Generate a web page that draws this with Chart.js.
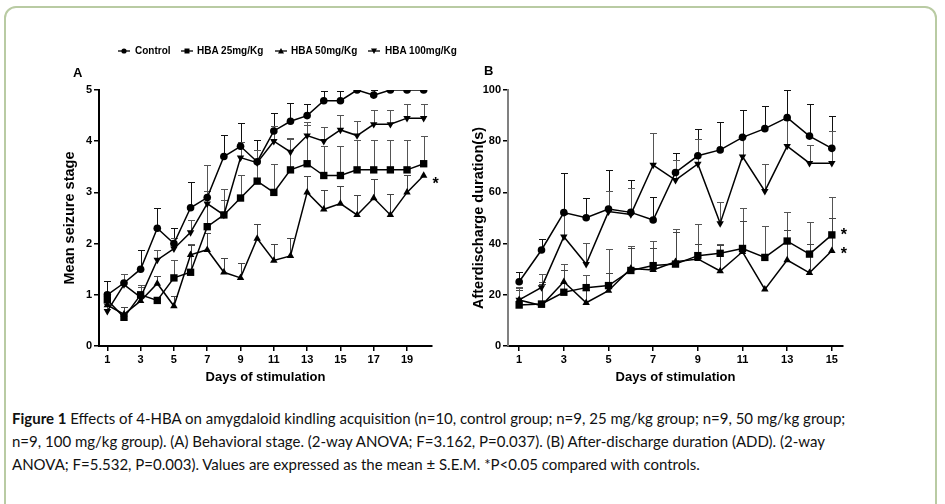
<!DOCTYPE html>
<html><head><meta charset="utf-8">
<script src="https://cdn.jsdelivr.net/npm/chart.js@4.4.1/dist/chart.umd.min.js"></script>
<style>
html,body{margin:0;padding:0;}
body{width:945px;height:504px;overflow:hidden;background:#fff;position:relative;font-family:"Liberation Sans",Arial,sans-serif;}
#frame{position:absolute;left:4px;top:6px;width:933px;height:530px;border:2px solid #b9cba3;border-radius:12px;box-sizing:border-box;}
canvas{position:absolute;top:0;}
#cA{left:0;}
#cB{left:470px;}
.panel{position:absolute;font-weight:bold;font-size:13px;color:#000;}
.leg{position:absolute;top:44px;height:14px;font-weight:bold;font-size:10px;line-height:14px;color:#000;white-space:nowrap;}
.leg svg{position:absolute;left:0;top:2px;}
.leg span{position:absolute;top:0;}
#caption{position:absolute;left:12px;top:407px;font-family:Lato,"Open Sans",sans-serif;font-size:15px;line-height:23px;white-space:nowrap;color:#111;}
</style>
</head><body>
<div id="frame"></div>
<canvas id="cA" width="470" height="400"></canvas>
<canvas id="cB" width="475" height="400"></canvas>
<div class="panel" style="left:73px;top:65px;">A</div>
<div class="panel" style="left:484px;top:63px;">B</div>
<div id="legend"></div>
<div id="caption"><b>Figure 1</b> Effects of 4-HBA on amygdaloid kindling acquisition (n=10, control group; n=9, 25 mg/kg group; n=9, 50 mg/kg group;<br>n=9, 100 mg/kg group). (A) Behavioral stage. (2-way ANOVA; F=3.162, P=0.037). (B) After-discharge duration (ADD). (2-way<br>ANOVA; F=5.532, P=0.003). Values are expressed as the mean ± S.E.M. *P&lt;0.05 compared with controls.</div>
<script>
// ---------- data ----------
const seriesNames = ["Control", "HBA 25mg/Kg", "HBA 50mg/Kg", "HBA 100mg/Kg"];

// Panel A: mean seizure stage
const daysA = [1,2,3,4,5,6,7,8,9,10,11,12,13,14,15,16,17,18,19,20];
const ctrlA   = [1.0,1.23,1.5,2.3,2.0,2.7,2.9,3.7,3.9,3.6,4.2,4.39,4.5,4.79,4.79,5.0,4.9,5.0,5.0,5.0];
const hba25A  = [0.9,0.56,1.0,0.89,1.33,1.44,2.33,2.56,2.89,3.22,3.0,3.44,3.56,3.33,3.33,3.44,3.44,3.44,3.44,3.56];
const hba50A  = [0.8,0.62,0.88,1.22,0.78,1.78,1.88,1.44,1.33,2.1,1.67,1.76,3.0,2.67,2.78,2.56,2.89,2.56,3.0,3.33];
const hba100A = [0.68,1.2,0.95,1.68,1.9,2.22,2.78,2.56,3.68,3.58,4.0,3.79,4.11,4.0,4.22,4.11,4.33,4.33,4.45,4.45];
const ctrlAErr   = [0.27,0.17,0.37,0.4,0.3,0.5,0.63,0.43,0.45,0.42,0.36,0.35,0.22,0.2,0.2,0,0.1,0,0,0];
const hba25AErr  = [0.15,0.2,0.2,0.05,0.34,0.55,0.7,0.5,0.45,0.6,0.55,0.6,0.75,0.57,0.57,0.59,0.59,0.59,0.59,0.54];
const hba50AErr  = [0.1,0.15,0.1,0.15,0.2,0.2,0.33,0.27,0.3,0.28,0.33,0.34,0.33,0.38,0.35,0.39,0.38,0.4,0.34,0];
const hba100AErr = [0.15,0.2,0.2,0.2,0.2,0.25,0.75,0.3,0.3,0.25,0.3,0.28,0.26,0.27,0.3,0.28,0.27,0.27,0.27,0.27];
const xTicksA = [1,3,5,7,9,11,13,15,17,19];
const yTicksA = [0,1,2,3,4,5];

// Panel B: afterdischarge duration (s)
const daysB = [1,2,3,4,5,6,7,8,9,10,11,12,13,14,15];
const ctrlB   = [25.1,37.5,52.1,50.1,53.5,52.2,49.2,67.8,74.3,76.6,81.5,84.9,89.2,82.0,77.2];
const hba25B  = [16.0,16.4,21.0,22.8,23.6,29.5,31.4,32.0,35.3,36.2,38.1,34.6,41.0,35.9,43.4];
const hba50B  = [18.0,15.8,25.1,16.9,21.6,30.3,29.7,32.9,34.0,29.3,36.8,22.1,33.6,28.6,37.2];
const hba100B = [18.0,22.9,42.7,32.0,52.5,51.4,70.7,64.8,71.1,47.9,74.0,60.5,78.1,71.4,71.4];
const ctrlBErr   = [4,4.2,15.3,7.6,15.2,12.6,8.9,7.7,10.3,11,10.7,9,10.8,12.4,12.8];
const hba25BErr  = [6.9,8.7,10.9,5,14.2,9.7,9.7,13.6,12.2,3.5,15.7,12.3,11.5,12.7,14.7];
const hba50BErr  = [4,8.4,4.6,5,6.8,8,8.7,11.7,5.7,10,12,0,11.7,11.1,12.7];
const hba100BErr = [4.8,5.2,9,8.4,8,10.2,12.4,7.9,9.6,8.5,8,10.6,10,7,12.6];
const xTicksB = [1,3,5,7,9,11,13,15];
const yTicksB = [0,20,40,60,80,100];

// ---------- styling ----------
const styles = [
  {pointStyle:'circle', radius:3.8, rot:0, err:'#111'},
  {pointStyle:'rect', radius:5.2, rot:0, err:'#555'},
  {pointStyle:'triangle', radius:4.3, rot:0, err:'#444'},
  {pointStyle:'triangle', radius:4.3, rot:180, err:'#555'}
];

function mkDatasets(days, vals, errs){
  return vals.map((v,i)=>({
    label: seriesNames[i],
    data: days.map((d,j)=>({x:d, y:v[j]})),
    errors: errs[i],
    errColor: styles[i].err,
    borderColor:'#000', backgroundColor:'#000', borderWidth:1.5,
    pointStyle: styles[i].pointStyle, pointRadius: styles[i].radius,
    pointRotation: styles[i].rot, pointBorderWidth:0,
    tension:0, fill:false
  }));
}

const errorBars = {
  id:'errorBars',
  beforeDatasetsDraw(chart){
    const ctx = chart.ctx, xs = chart.scales.x, ys = chart.scales.y;
    chart.data.datasets.forEach(ds=>{
      ctx.save(); ctx.strokeStyle = ds.errColor; ctx.lineWidth = 1;
      ds.data.forEach((p,j)=>{
        const e = ds.errors[j]; if(!e) return;
        const px = Math.round(xs.getPixelForValue(p.x))+0.5;
        const py = ys.getPixelForValue(p.y);
        const pt = Math.round(ys.getPixelForValue(p.y+e))+0.5;
        ctx.beginPath();
        ctx.moveTo(px,py); ctx.lineTo(px,pt);
        ctx.moveTo(px-3.5,pt); ctx.lineTo(px+3.5,pt);
        ctx.stroke();
      });
      ctx.restore();
    });
  }
};

const stars = {
  id:'stars',
  afterDatasetsDraw(chart, args, opts){
    const ctx = chart.ctx;
    (opts.list||[]).forEach(s=>{
      const meta = chart.getDatasetMeta(s.ds);
      const last = meta.data[meta.data.length-1];
      ctx.save();
      ctx.fillStyle='#000'; ctx.font='bold 16px "Liberation Sans", Arial';
      ctx.textAlign='center'; ctx.textBaseline='middle';
      ctx.fillText('*', last.x + s.dx, last.y + s.dy);
      ctx.restore();
    });
  }
};

const tickFont = {family:'"Liberation Sans", Arial', weight:'bold', size:11};
const xTitleFont = {family:'"Liberation Sans", Arial', weight:'bold', size:13};
const yTitleFont = {family:'"Liberation Sans", Arial', weight:'bold', size:14.5};

function mkChart(id, days, vals, errs, xTicks, yTicks, xmax, ymax, ytitle, pad, yBorderColor, starList){
  return new Chart(document.getElementById(id), {
    type:'line',
    data:{datasets: mkDatasets(days, vals, errs)},
    options:{
      responsive:false, animation:false, devicePixelRatio:1,
      layout:{padding:pad},
      plugins:{legend:{display:false}, tooltip:{enabled:false}, stars:{list:starList}},
      scales:{
        x:{type:'linear', min:0.5, max:xmax,
           afterBuildTicks:(s)=>{s.ticks = xTicks.map(v=>({value:v}));},
           afterFit:(s)=>{s.height = 39;},
           grid:{drawOnChartArea:false, drawTicks:true, tickLength:5, color:'#000', lineWidth:1.5},
           border:{display:true, color:'#000', width:2},
           ticks:{font:tickFont, color:'#000', padding:2, maxRotation:0, autoSkip:false},
           title:{display:true, text:'Days of stimulation', font:xTitleFont, color:'#000', padding:0}
        },
        y:{type:'linear', min:0, max:ymax,
           afterBuildTicks:(s)=>{s.ticks = yTicks.map(v=>({value:v}));},
           afterFit:(s)=>{s.width = 38;},
           grid:{drawOnChartArea:false, drawTicks:true, tickLength:5, color:'#000', lineWidth:1.5},
           border:{display:true, color:yBorderColor, width:2},
           ticks:{font:tickFont, color:'#000', padding:2},
           title:{display:true, text:ytitle, font:yTitleFont, color:'#000', padding:0}
        }
      }
    },
    plugins:[errorBars, stars]
  });
}

mkChart('cA', daysA, [ctrlA,hba25A,hba50A,hba100A], [ctrlAErr,hba25AErr,hba50AErr,hba100AErr],
  xTicksA, yTicksA, 20.5, 5, 'Mean seizure stage', {left:61, top:90, right:38, bottom:15}, '#000',
  [{ds:2, dx:12, dy:9}]);
mkChart('cB', daysB, [ctrlB,hba25B,hba50B,hba100B], [ctrlBErr,hba25BErr,hba50BErr,hba100BErr],
  xTicksB, yTicksB, 15.5, 100, 'Afterdischarge duration(s)', {left:0, top:90, right:102, bottom:15}, '#808080',
  [{ds:1, dx:12, dy:1}, {ds:2, dx:12, dy:4}]);

// ---------- legend (HTML) ----------
const legendPos = [{m:118, t:135}, {m:181, t:197}, {m:275, t:291}, {m:368, t:385}];
const markerSvg = [
  '<circle cx="6" cy="5" r="2.6" fill="#000"/>',
  '<rect x="3.5" y="2.5" width="5" height="5" fill="#000"/>',
  '<polygon points="6,2 9,7.5 3,7.5" fill="#000"/>',
  '<polygon points="6,8 9,2.5 3,2.5" fill="#000"/>'
];
const leg = document.getElementById('legend');
seriesNames.forEach((n,i)=>{
  const d = document.createElement('div');
  d.className='leg'; d.style.left = legendPos[i].m+'px';
  d.innerHTML = '<svg width="12" height="10"><line x1="0" y1="5" x2="12" y2="5" stroke="#000" stroke-width="1.3"/>'+markerSvg[i]+'</svg><span style="left:'+(legendPos[i].t-legendPos[i].m)+'px">'+n+'</span>';
  leg.appendChild(d);
});
</script>
</body></html>
